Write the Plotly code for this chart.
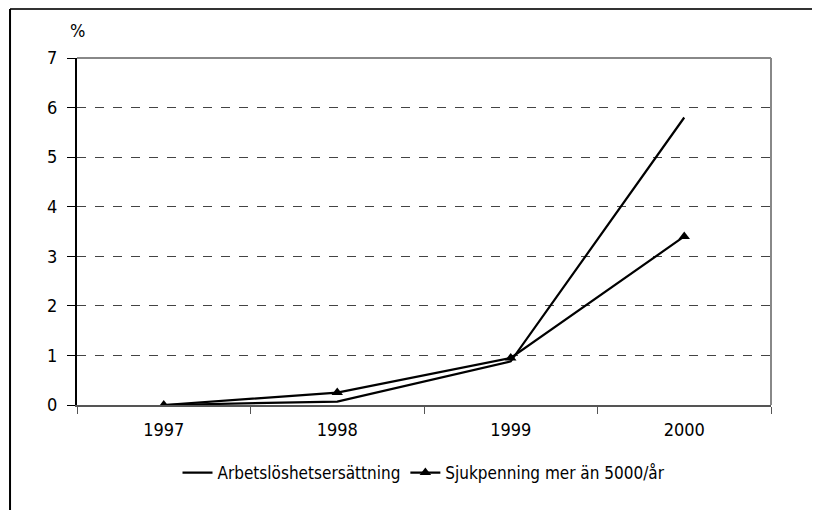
import plotly.graph_objects as go

years = ["1997", "1998", "1999", "2000"]
arbetsloshet = [0.0, 0.07, 0.88, 5.8]
sjukpenning = [0.0, 0.25, 0.95, 3.4]
y_ticks = [0, 1, 2, 3, 4, 5, 6, 7]

FONT = "DejaVu Sans Condensed, Liberation Sans Narrow, Roboto Condensed, sans-serif"

fig = go.Figure()
fig.add_trace(go.Scatter(
    x=years, y=arbetsloshet, mode="lines", name="Arbetslöshetsersättning",
    line=dict(color="black", width=2.2),
))
fig.add_trace(go.Scatter(
    x=years, y=sjukpenning, mode="lines+markers", name="Sjukpenning mer än 5000/år",
    line=dict(color="black", width=2.2),
    marker=dict(symbol="triangle-up", size=10, color="black"),
))

# plot-area border (top and right) and the outer chart frame
fig.add_shape(type="line", xref="paper", yref="paper", x0=0, x1=1, y0=1, y1=1,
              line=dict(color="#888888", width=2))
fig.add_shape(type="line", xref="paper", yref="paper", x0=1, x1=1, y0=0, y1=1,
              line=dict(color="#888888", width=2))
fig.add_shape(type="line", xref="paper", yref="paper", x0=-0.0965, x1=1.1, y0=1.141, y1=1.141,
              line=dict(color="#333333", width=2))
fig.add_shape(type="line", xref="paper", yref="paper", x0=-0.0965, x1=-0.0965, y0=1.141, y1=-0.31,
              line=dict(color="black", width=2))

fig.add_annotation(text="%", xref="paper", yref="paper", x=0.0, y=1.08,
                   xanchor="center", yanchor="middle", showarrow=False,
                   font=dict(family=FONT, size=18, color="black"))

fig.update_layout(
    width=812, height=502,
    margin=dict(l=69, r=49, t=50, b=105),
    plot_bgcolor="white", paper_bgcolor="white",
    font=dict(family=FONT, size=18, color="black"),
    showlegend=True,
    legend=dict(orientation="h", x=0.5, xanchor="center", y=-0.196, yanchor="middle",
                font=dict(family=FONT, size=17)),
    xaxis=dict(
        type="category", range=[-0.5, 3.5], tickson="boundaries",
        ticks="outside", ticklen=7, tickcolor="#555555", ticklabelstandoff=7,
        showline=True, linecolor="#555555", linewidth=2,
        showgrid=False, zeroline=False,
    ),
    yaxis=dict(
        range=[0, 7], tickvals=y_ticks, ticks="outside", ticklen=8, tickcolor="black",
        ticklabelstandoff=6,
        showline=True, linecolor="black", linewidth=2,
        showgrid=True, gridcolor="#444444", griddash="dash", gridwidth=1,
        zeroline=False,
    ),
)

fig.write_html("out.html")
